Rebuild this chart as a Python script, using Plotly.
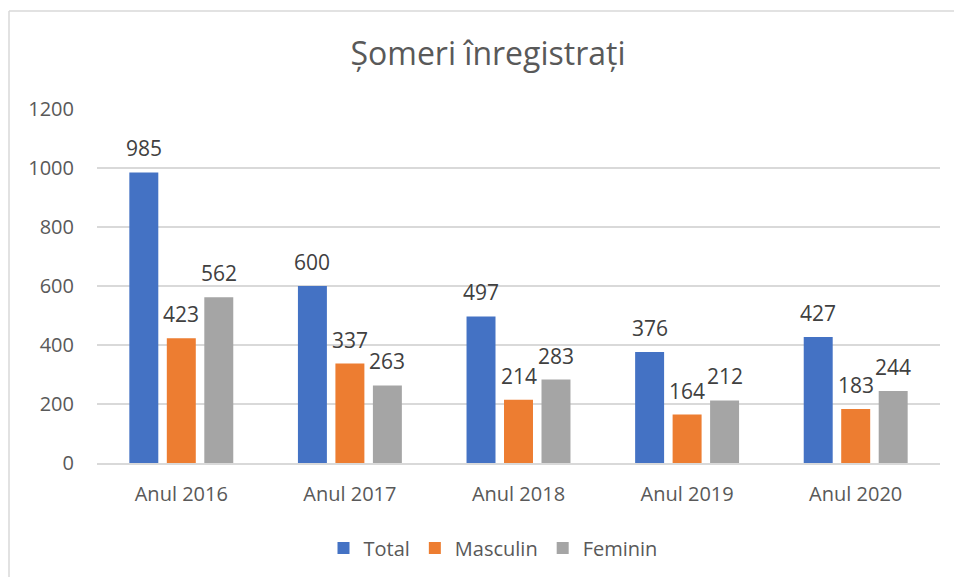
import plotly.graph_objects as go

categories = ["Anul 2016", "Anul 2017", "Anul 2018", "Anul 2019", "Anul 2020"]
total = [985, 600, 497, 376, 427]
masculin = [423, 337, 214, 164, 183]
feminin = [562, 263, 283, 212, 244]
series_names = ["Total", "Masculin", "Feminin"]
colors = ["#4472C4", "#ED7D31", "#A5A5A5"]
y_ticks = [0, 200, 400, 600, 800, 1000, 1200]

W, H = 954, 577
ML, MR, MT, MB = 97, 14, 109, 114
pw, ph = W - ML - MR, H - MT - MB

FONT = "Open Sans"
TXT = "#595959"
SLOT = 37.5  # px between neighbouring bars in a group

fig = go.Figure()
all_vals = [total, masculin, feminin]
for i, (name, vals, col) in enumerate(zip(series_names, all_vals, colors)):
    fig.add_trace(go.Bar(
        x=categories, y=vals, name=name, marker_color=col,
        marker_line_width=0,
    ))
    for c, v in zip(categories, vals):
        fig.add_annotation(x=c, y=v, xref="x", yref="y", text=str(v),
                           showarrow=False, xshift=(i - 1) * SLOT, yshift=24,
                           yanchor="middle",
                           font=dict(family=FONT, size=21, color="#404040"))

# chart border (left and top visible)
bx = (9 - ML) / pw
by = (H - MB - 11) / ph
fig.add_shape(type="line", xref="paper", yref="paper", x0=bx, x1=(W - ML) / pw + 0.02,
              y0=by, y1=by, line=dict(color="#D9D9D9", width=1.5))
fig.add_shape(type="line", xref="paper", yref="paper", x0=bx, x1=bx,
              y0=by, y1=-MB / ph - 0.05, line=dict(color="#D9D9D9", width=1.5))

fig.update_layout(
    width=W, height=H,
    margin=dict(l=ML, r=MR, t=MT, b=MB, autoexpand=False),
    paper_bgcolor="white", plot_bgcolor="white",
    title=dict(text="Șomeri înregistrați", x=488 / W, xanchor="center",
               y=1 - 54 / H, yanchor="middle", automargin=False,
               font=dict(family=FONT, size=32, color=TXT)),
    barmode="group", bargap=0.333, bargroupgap=0.227,
    font=dict(family=FONT, color=TXT),
    showlegend=True,
    legend=dict(orientation="h", x=493 / W, xref="container", xanchor="center",
                y=1 - 548 / H, yref="container", yanchor="middle",
                font=dict(family=FONT, size=20, color=TXT),
                itemwidth=30, traceorder="normal"),
    xaxis=dict(showline=True, linecolor="#D9D9D9", linewidth=2, automargin=False,
               tickfont=dict(family=FONT, size=20, color=TXT),
               ticks="", ticklabelstandoff=12),
    yaxis=dict(range=[0, 1200], tickvals=y_ticks, showgrid=True, automargin=False,
               gridcolor="#D9D9D9", gridwidth=1.5, zeroline=False,
               tickfont=dict(family=FONT, size=20, color=TXT),
               ticks="", ticklabelstandoff=22),
)

fig.write_html("out.html", config={"displayModeBar": False},
               post_script="document.body.style.margin='0';document.body.style.overflow='hidden';")
